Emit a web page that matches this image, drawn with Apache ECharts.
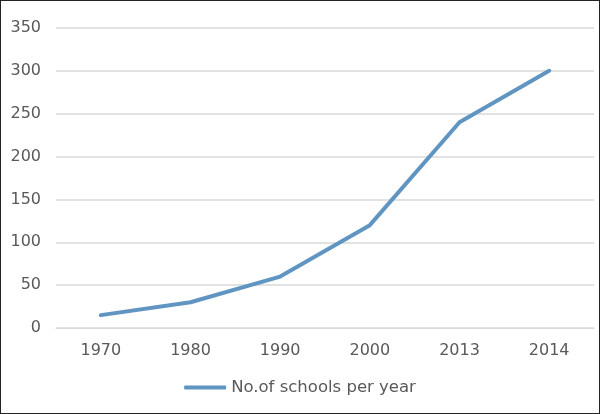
<!DOCTYPE html>
<html><head><meta charset="utf-8">
<script src="https://cdn.jsdelivr.net/npm/echarts@6/dist/echarts.min.js"></script>
<style>
html,body{margin:0;padding:0;background:#fff;}
#c{width:600px;height:414px;box-sizing:border-box;border:1px solid #222;}
</style></head>
<body><div id="c"></div>
<script>
var categories = ['1970','1980','1990','2000','2013','2014'];
var schools = [15, 30, 60, 120, 240, 300];
var seriesName = 'No.of schools per year';

var chart = echarts.init(document.getElementById('c'));
chart.setOption({
  animation:false,
  grid:{left:55,right:5,top:27,bottom:85},
  legend:{bottom:12,left:'center',itemWidth:42,itemHeight:4,itemGap:5,
    textStyle:{fontFamily:'DejaVu Sans',fontSize:16.5,color:'#595959'},
    data:[{name:seriesName,icon:'roundRect'}]},
  xAxis:{type:'category',data:categories,boundaryGap:true,
    axisLine:{lineStyle:{color:'#d9d9d9',width:1}},axisTick:{show:false},
    axisLabel:{fontFamily:'DejaVu Sans',fontSize:16,color:'#595959',margin:15}},
  yAxis:{type:'value',min:0,max:350,interval:50,
    axisLine:{show:false},axisTick:{show:false},
    splitLine:{lineStyle:{color:'#d9d9d9',width:1.5}},
    axisLabel:{fontFamily:'DejaVu Sans',fontSize:16,color:'#595959',margin:15}},
  series:[{name:seriesName,type:'line',data:schools,symbol:'none',
    lineStyle:{color:'#6095c2',width:4,cap:'round',join:'round'},itemStyle:{color:'#6095c2'}}]
});
</script></body></html>
